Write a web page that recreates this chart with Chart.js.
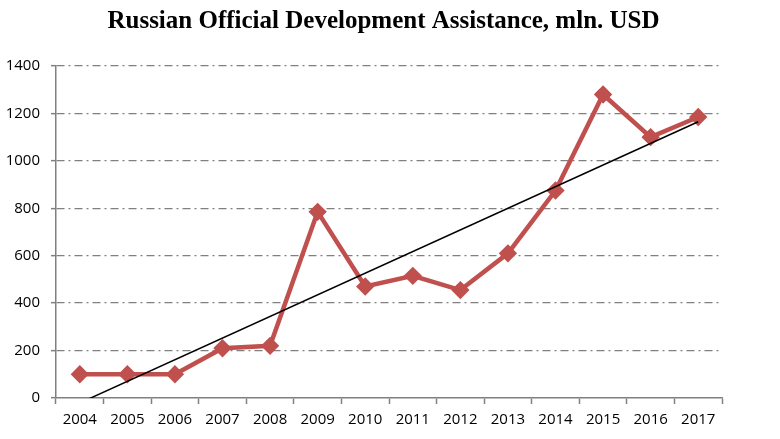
<!DOCTYPE html>
<html><head><meta charset="utf-8">
<script src="https://cdn.jsdelivr.net/npm/chart.js@4/dist/chart.umd.min.js"></script>
<style>html,body{margin:0;padding:0;background:#fff}#wrap{width:780px;height:439px}</style>
</head><body><div id="wrap"><canvas id="c" width="780" height="439"></canvas></div>
<script>
const years = ['2004','2005','2006','2007','2008','2009','2010','2011','2012','2013','2014','2015','2016','2017'];
const odaValues = [100,100,100,210,220,785,470,515,455,610,875,1280,1100,1185];
const trendValues = [-21,null,null,null,null,null,null,null,null,null,null,null,null,1165];
const yTicks = [0,200,400,600,800,1000,1200,1400];
const titleText = 'Russian Official Development Assistance, mln. USD';

const shiftTitle = {
  id: 'shiftTitle',
  afterLayout(chart) {
    const t = chart.titleBlock;
    if (t) { t.left += 22.5; t.right += 22.5; }
  }
};

new Chart(document.getElementById('c'), {
  type: 'line',
  data: {
    labels: years,
    datasets: [
      { data: odaValues, borderColor: '#C0504D', backgroundColor: '#C0504D', borderWidth: 4.5,
        pointStyle: 'rectRot', pointRadius: 6, pointHoverRadius: 6, tension: 0, order: 2 },
      { data: trendValues, borderColor: '#000', borderWidth: 1.5, pointRadius: 0, spanGaps: true,
        clip: 0, tension: 0, order: 1 }
    ]
  },
  plugins: [shiftTitle],
  options: {
    responsive: false, animation: false,
    layout: { padding: { left: 0, right: 58, top: 0, bottom: 0 } },
    plugins: {
      legend: { display: false }, tooltip: { enabled: false },
      title: { display: true, text: titleText, color: '#000',
        font: { family: '"Liberation Serif", "Times New Roman", serif', size: 25, weight: 'bold', lineHeight: 1.2 },
        padding: { top: 7, bottom: 29 } }
    },
    scales: {
      x: {
        offset: true,
        grid: { offset: true, drawOnChartArea: false, drawTicks: true, tickLength: 6, tickColor: '#808080', tickWidth: 1.5 },
        border: { color: '#808080', width: 1.5 },
        ticks: { color: '#000', padding: 7, maxRotation: 0, font: { family: '"Open Sans", "Liberation Sans", sans-serif', size: 15 } },
        afterFit(s) { s.height = 41; }
      },
      y: {
        min: 0, max: 1400,
        afterBuildTicks(s) { s.ticks = yTicks.map(v => ({ value: v })); },
        grid: { color: ctx => ctx.tick && ctx.tick.value === 0 ? 'rgba(0,0,0,0)' : '#808080', lineWidth: 1.3,
          tickLength: 5, tickColor: '#808080', tickWidth: 1.5, tickBorderDash: [] },
        border: { color: '#808080', width: 1.5, dash: [8, 4, 2, 4] },
        ticks: { color: '#000', padding: 11, callback: v => String(v),
          font: { family: '"Open Sans", "Liberation Sans", sans-serif', size: 15 } },
        afterFit(s) { s.width = 56; }
      }
    }
  }
});
</script></body></html>
